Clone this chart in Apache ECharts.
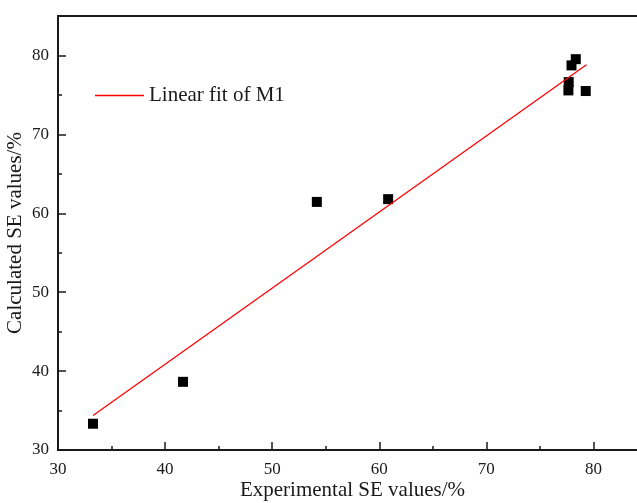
<!DOCTYPE html>
<html>
<head>
<meta charset="utf-8">
<script src="https://cdn.jsdelivr.net/npm/echarts@6/dist/echarts.min.js"></script>
<style>
  html, body { margin: 0; padding: 0; background: #fff; }
  #chart { width: 637px; height: 503px; }
</style>
</head>
<body>
<div id="chart"></div>
<script>
// measured points (experimental vs calculated SE, %)
var expValues = [33.27, 41.67, 54.17, 60.83, 78.35, 77.95, 77.69, 77.66, 79.28];
var calcValues = [33.33, 38.64, 61.44, 61.79, 79.53, 78.74, 76.62, 75.57, 75.49];
// ends of the fitted line
var fitX = [33.27, 79.35];
var fitY = [34.38, 78.82];

var FONT = 'Liberation Serif';
var INK = '#1a1a1a';

var chart = echarts.init(document.getElementById('chart'));

var majorAxis = {
  min: 30,
  max: 85,
  interval: 10,
  axisLine: { show: true, onZero: false, lineStyle: { color: INK, width: 2 } },
  axisTick: { show: true, inside: true, length: 8, lineStyle: { color: INK, width: 1.5 } },
  splitLine: { show: false },
  nameLocation: 'middle',
  nameMoveOverlap: false,
  nameTextStyle: { fontFamily: FONT, fontSize: 21, color: INK }
};
var minorAxis = {
  min: 30,
  max: 85,
  interval: 5,
  axisLine: { show: false },
  axisTick: { show: true, inside: true, length: 4, lineStyle: { color: INK, width: 1.5 } },
  axisLabel: { show: false },
  splitLine: { show: false }
};

chart.setOption({
  animation: false,
  backgroundColor: '#fff',
  grid: {
    left: 58, top: 16, right: -10, bottom: 53,
    containLabel: false,
    outerBoundsMode: 'none',
    show: true, borderColor: INK, borderWidth: 2
  },
  legend: {
    left: 95,
    top: 85,
    padding: 0,
    icon: 'rect',
    itemWidth: 49,
    itemHeight: 1.4,
    itemGap: 5,
    textStyle: { fontFamily: FONT, fontSize: 21, color: INK },
    data: ['Linear fit of M1']
  },
  xAxis: [
    Object.assign({}, majorAxis, {
      type: 'value',
      position: 'bottom',
      name: 'Experimental SE values/%',
      nameGap: 30,
      axisLabel: { fontFamily: FONT, fontSize: 17, color: INK, margin: 11, showMaxLabel: false }
    }),
    Object.assign({}, minorAxis, { type: 'value', position: 'bottom' })
  ],
  yAxis: [
    Object.assign({}, majorAxis, {
      type: 'value',
      position: 'left',
      name: 'Calculated SE values/%',
      nameGap: 32,
      axisLabel: { fontFamily: FONT, fontSize: 17, color: INK, margin: 9, showMaxLabel: false }
    }),
    Object.assign({}, minorAxis, { type: 'value', position: 'left' })
  ],
  series: [
    {
      name: 'M1',
      type: 'scatter',
      symbol: 'rect',
      symbolSize: 10,
      itemStyle: { color: '#000', opacity: 1 },
      data: expValues.map(function (x, i) { return [x, calcValues[i]]; })
    },
    {
      name: 'Linear fit of M1',
      type: 'line',
      symbol: 'none',
      lineStyle: { color: '#ff0000', width: 1.3 },
      itemStyle: { color: '#ff0000' },
      data: fitX.map(function (x, i) { return [x, fitY[i]]; })
    }
  ]
});
</script>
</body>
</html>
